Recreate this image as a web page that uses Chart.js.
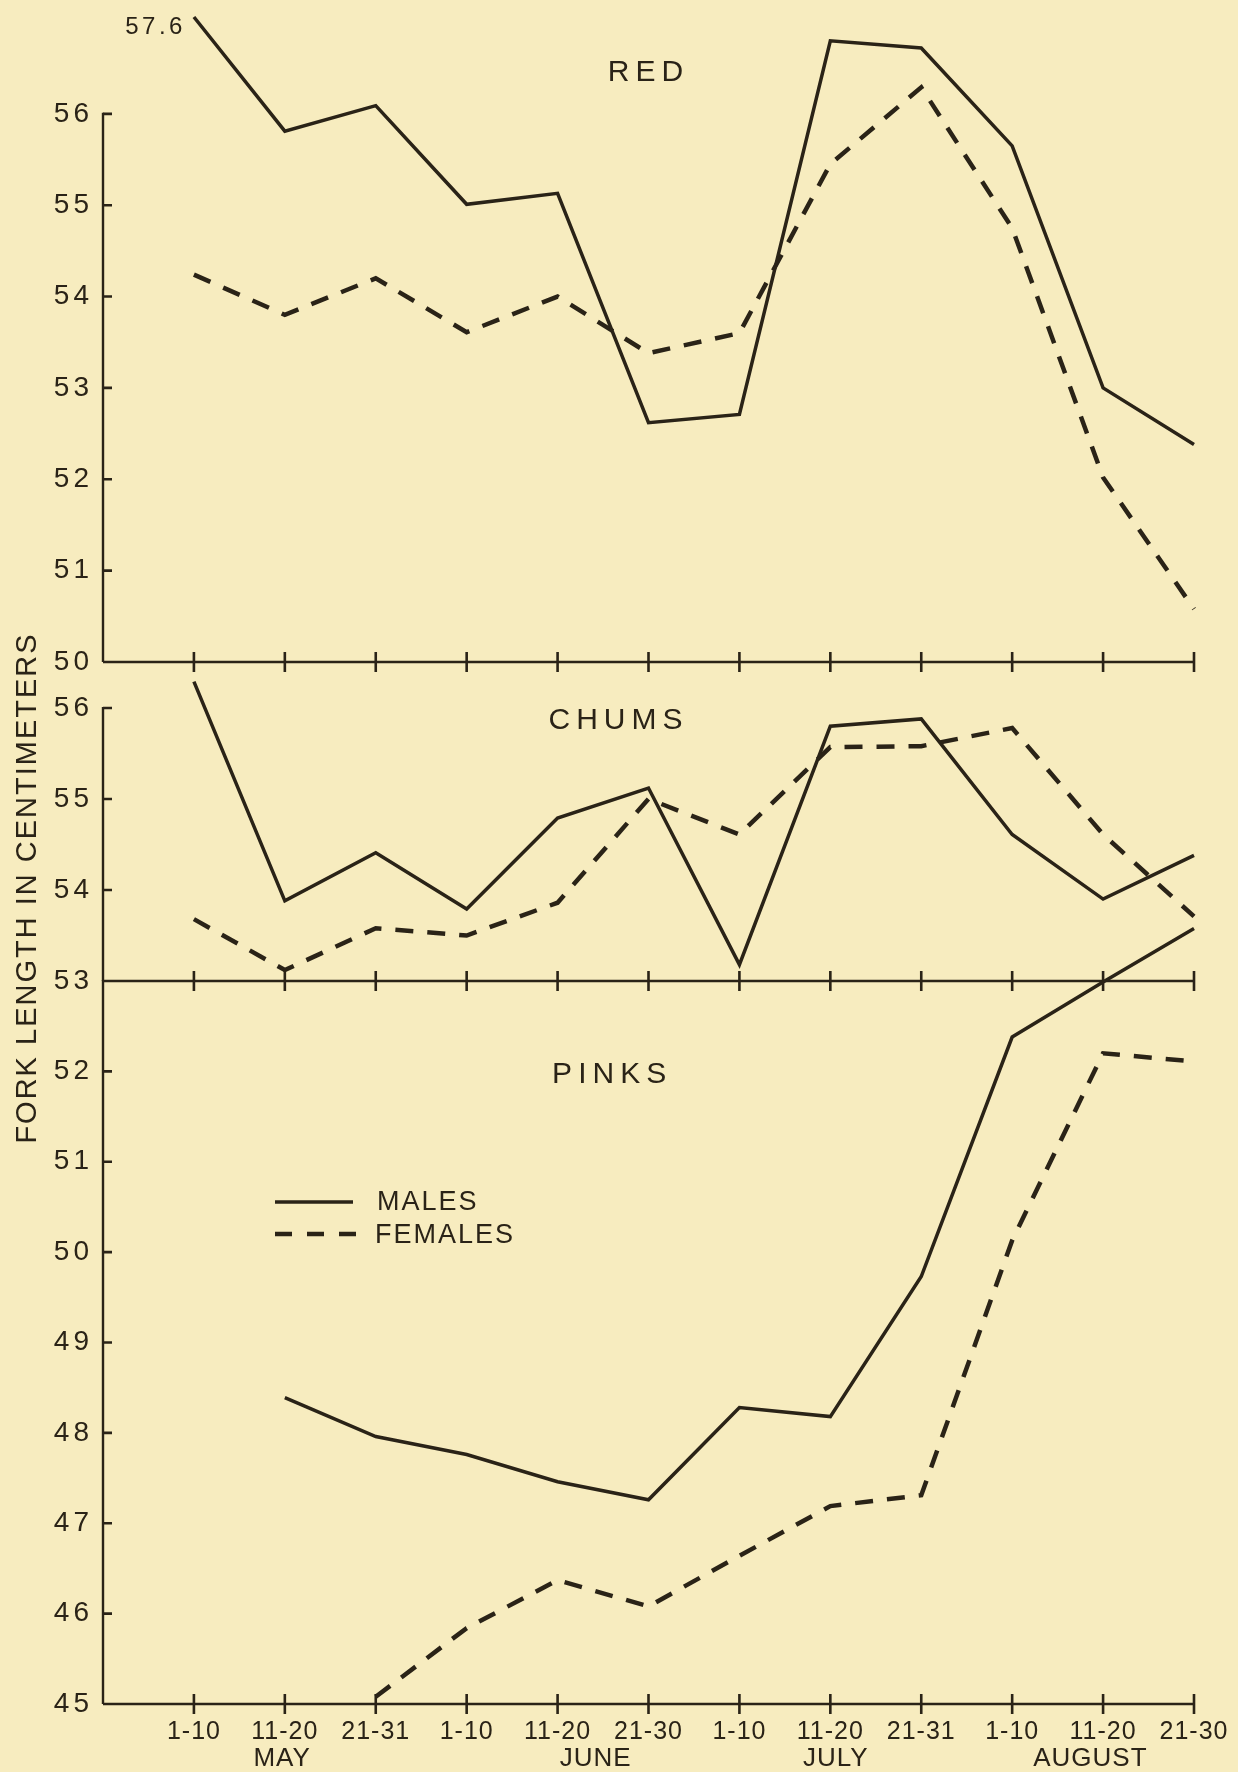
<!DOCTYPE html>
<html>
<head>
<meta charset="utf-8">
<script src="https://cdn.jsdelivr.net/npm/chart.js@4.4.1/dist/chart.umd.min.js"></script>
<style>
  html, body { margin: 0; padding: 0; background: #f7ecbf; }
  canvas { display: block; }
</style>
</head>
<body>
<canvas id="c" width="1238" height="1772"></canvas>
<script>
// ---------------- data ----------------
const periods = ['1-10', '11-20', '21-31', '1-10', '11-20', '21-30', '1-10', '11-20', '21-31', '1-10', '11-20', '21-30'];
const months = ['MAY', 'JUNE', 'JULY', 'AUGUST'];
const monthCenters = [0.97, 4.42, 7.06, 9.86];   // month label anchors, in period-index units

const redMales    = [57.6, 55.81, 56.09, 55.01, 55.13, 52.62, 52.71, 56.80, 56.72, 55.65, 53.00, 52.38];
const redFemales  = [54.24, 53.80, 54.20, 53.61, 54.00, 53.38, 53.60, 55.45, 56.29, 54.75, 52.02, 50.58];
const chumMales   = [56.29, 53.88, 54.41, 53.79, 54.79, 55.12, 53.18, 55.80, 55.88, 54.61, 53.90, 54.38];
const chumFemales = [53.68, 53.12, 53.58, 53.50, 53.86, 55.00, 54.61, 55.57, 55.58, 55.78, 54.61, 53.71];
const pinkMales   = [null, 48.39, 47.96, 47.76, 47.46, 47.26, 48.28, 48.18, 49.73, 52.38, 52.99, 53.58];
const pinkFemales = [null, null, 45.08, 45.84, 46.37, 46.08, 46.64, 47.19, 47.31, 50.13, 52.20, 52.11];

const redTicks  = [50, 51, 52, 53, 54, 55, 56];
const chumTicks = [53, 54, 55, 56];
const pinkTicks = [45, 46, 47, 48, 49, 50, 51, 52];

const panelNames   = ['RED', 'CHUMS', 'PINKS'];
const legendLabels = ['MALES', 'FEMALES'];
const yTitle = 'FORK LENGTH IN CENTIMETERS';

// ---------------- styling / layout ----------------
const INK = '#2a2317';
const FONT = '"Liberation Sans", Arial, sans-serif';
const RED_MAX = 57.06;     // top of the RED panel (off-scale value is drawn at the frame top)
const CHUM_MAX = 56.505;

function spaced(px) {
  return function (scale) {
    if (scale._spacedWrap) return;
    const orig = scale.drawLabels.bind(scale);
    scale.drawLabels = function (area) {
      const ctx = scale.ctx;
      const prev = ctx.letterSpacing;
      ctx.letterSpacing = px + 'px';
      orig(area);
      ctx.letterSpacing = prev;
    };
    scale._spacedWrap = true;
  };
}

function txt(ctx, s, x, y, size, ls, align, rot) {
  ctx.save();
  ctx.font = size + 'px ' + FONT;
  ctx.letterSpacing = ls + 'px';
  ctx.fillStyle = INK;
  ctx.textBaseline = 'middle';
  ctx.textAlign = align || 'center';
  if (rot) { ctx.translate(x, y); ctx.rotate(rot); ctx.fillText(s, 0, 0); }
  else ctx.fillText(s, x, y);
  ctx.restore();
}

const toPts = (arr, cap) => arr.map((v, i) => ({ x: i, y: v == null ? null : (cap != null ? Math.min(v, cap) : v) }));

const solid = { borderColor: INK, borderWidth: 3.5, pointRadius: 0, fill: false, tension: 0, clip: false };
const dashed = { borderColor: INK, borderWidth: 4.5, borderDash: [18, 14], pointRadius: 0, fill: false, tension: 0, clip: false };

const yCommon = (ticksArr, fontSize) => ({
  type: 'linear', position: 'left', stack: 'panels', offset: false,
  grid: { display: false }, border: { display: false },
  afterBuildTicks: s => { s.ticks = ticksArr.map(v => ({ value: v })); },
  afterFit: s => { s.width = 103; s.paddingTop = 0; s.paddingBottom = 0; },
  afterUpdate: spaced(4),
  ticks: { padding: 2, color: INK, font: { family: FONT, size: fontSize, lineHeight: 0.8 }, callback: v => String(v) }
});

const panels = [
  { id: 'yRed',  top: 56, bottom: 50, ticks: redTicks,  title: panelNames[0], tx: 5.0,  ty: 56.45 },
  { id: 'yChum', top: 56, bottom: 53, ticks: chumTicks, title: panelNames[1], tx: 4.67, ty: 55.86 },
  { id: 'yPink', top: 53, bottom: 45, ticks: pinkTicks, title: panelNames[2], tx: 4.6,  ty: 51.96 }
];

const bgPlugin = {
  id: 'bg',
  beforeDraw(chart) {
    const ctx = chart.ctx;
    ctx.save();
    ctx.fillStyle = '#f7ecbf';
    ctx.fillRect(0, 0, chart.width, chart.height);
    ctx.restore();
  }
};

const framePlugin = {
  id: 'frame',
  beforeDatasetsDraw(chart) {
    const ctx = chart.ctx;
    const xs = chart.scales.x;
    const x0 = chart.chartArea.left;
    const x1 = xs.getPixelForValue(periods.length - 1);
    ctx.save();
    ctx.strokeStyle = INK;
    ctx.lineCap = 'butt';
    panels.forEach(p => {
      const ys = chart.scales[p.id];
      const yb = ys.getPixelForValue(p.bottom);
      const yt = ys.getPixelForValue(p.top);
      ctx.lineWidth = 2.4;
      ctx.beginPath();
      ctx.moveTo(x0, yb); ctx.lineTo(x1 + 1, yb);
      ctx.moveTo(x0, yt - 1); ctx.lineTo(x0, yb);
      ctx.stroke();
      ctx.lineWidth = 2.6;
      ctx.beginPath();
      periods.forEach((_, i) => {
        const x = xs.getPixelForValue(i);
        ctx.moveTo(x, yb - 10); ctx.lineTo(x, yb + 10);
      });
      p.ticks.forEach(v => {
        if (v === p.bottom) return;
        const y = ys.getPixelForValue(v);
        ctx.moveTo(x0, y); ctx.lineTo(x0 + 9, y);
      });
      ctx.stroke();
    });
    ctx.restore();
  },
  afterDatasetsDraw(chart) {
    const ctx = chart.ctx;
    const xs = chart.scales.x;
    // panel titles
    panels.forEach(p => {
      const ys = chart.scales[p.id];
      txt(ctx, p.title, xs.getPixelForValue(p.tx), ys.getPixelForValue(p.ty), 30, 6, 'center');
    });
    // off-scale note for the first RED male value
    const pt = chart.getDatasetMeta(0).data[0];
    txt(ctx, String(redMales[0]), pt.x - 8, pt.y + 10, 24, 3.5, 'right');
    // month labels
    months.forEach((m, i) => {
      txt(ctx, m, xs.getPixelForValue(monthCenters[i]), 1759, 26, 1, 'center');
    });
    // y title
    txt(ctx, yTitle, 28, 888, 29, 2, 'center', -Math.PI / 2);
    // legend
    ctx.save();
    ctx.strokeStyle = INK;
    ctx.lineWidth = 3.5;
    ctx.beginPath(); ctx.moveTo(275, 1202); ctx.lineTo(353, 1202); ctx.stroke();
    ctx.lineWidth = 4.5;
    ctx.setLineDash([17, 15]);
    ctx.beginPath(); ctx.moveTo(275, 1234); ctx.lineTo(356, 1234); ctx.stroke();
    ctx.restore();
    txt(ctx, legendLabels[0], 377, 1203, 27, 2, 'left');
    txt(ctx, legendLabels[1], 375, 1236, 27, 2, 'left');
  }
};

new Chart(document.getElementById('c'), {
  type: 'line',
  data: {
    datasets: [
      Object.assign({ label: 'Red males',    data: toPts(redMales, RED_MAX), yAxisID: 'yRed' }, solid),
      Object.assign({ label: 'Red females',  data: toPts(redFemales),        yAxisID: 'yRed' }, dashed),
      Object.assign({ label: 'Chum males',   data: toPts(chumMales),         yAxisID: 'yChum' }, solid),
      Object.assign({ label: 'Chum females', data: toPts(chumFemales),       yAxisID: 'yChum' }, dashed),
      Object.assign({ label: 'Pink males',   data: toPts(pinkMales),         yAxisID: 'yPink' }, solid),
      Object.assign({ label: 'Pink females', data: toPts(pinkFemales),       yAxisID: 'yPink' }, dashed)
    ]
  },
  options: {
    responsive: false,
    animation: false,
    devicePixelRatio: 1,
    layout: { padding: { top: 17, right: 44, left: 0, bottom: 0 } },
    plugins: { legend: { display: false }, tooltip: { enabled: false } },
    elements: { line: { borderJoinStyle: 'miter' } },
    scales: {
      x: {
        type: 'linear', position: 'bottom', min: -1, max: periods.length - 1,
        grid: { display: false }, border: { display: false },
        afterBuildTicks: s => { s.ticks = periods.map((_, i) => ({ value: i })); },
        afterFit: s => { s.height = 68; },
        afterUpdate: spaced(1),
        ticks: {
          autoSkip: false, maxRotation: 0, minRotation: 0, padding: 5, color: INK,
          font: { family: FONT, size: 25 },
          callback: v => periods[v] !== undefined ? periods[v] : ''
        }
      },
      yRed:  Object.assign(yCommon(redTicks, 28),  { min: 50, max: RED_MAX,  stackWeight: 645, weight: 3 }),
      yChum: Object.assign(yCommon(chumTicks, 28), { min: 53, max: CHUM_MAX, stackWeight: 319, weight: 2 }),
      yPink: Object.assign(yCommon(pinkTicks, 28), { min: 45, max: 53,       stackWeight: 723, weight: 1 })
    }
  },
  plugins: [bgPlugin, framePlugin]
});
</script>
</body>
</html>
